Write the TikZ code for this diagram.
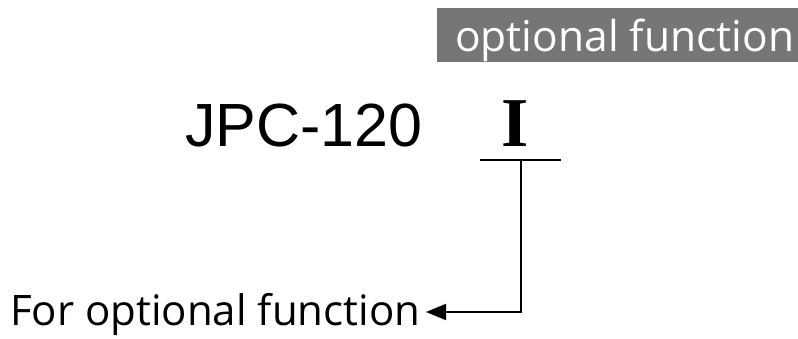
\documentclass[tikz,border=0pt]{standalone}
\usepackage{fontspec}
\setmainfont{Open Sans}
\newfontfamily\arialfont{Liberation Sans}
\newfontfamily\timesfont{Liberation Serif}
\usetikzlibrary{arrows.meta}
\definecolor{boxgray}{RGB}{118,118,118}
\tikzset{
  lbl/.style={inner sep=0pt, anchor=base west},
  conn/.style={line width=1.8pt},
}
\begin{document}
\begin{tikzpicture}[x=1pt,y=-1pt]
\useasboundingbox (0,0) rectangle (798,339);
\fill[boxgray] (437,8) rectangle (798,62);
\node[lbl, text=white, font=\fontsize{42.5}{42.5}\selectfont] (opt) at (455,52) {optional function};
\node[lbl, font=\arialfont\fontsize{61}{61}\selectfont] (jpc) at (185,147) {JPC-120};
\node[lbl, font=\timesfont\bfseries\fontsize{70}{70}\selectfont] (roman) at (501,147) {I};
\coordinate (ul) at (480,160);
\coordinate (ur) at (561,160);
\draw[conn] (ul) -- (ur);
\coordinate (top) at (521,160);
\coordinate (corner) at (521,312);
\node[lbl, font=\fontsize{42}{42}\selectfont] (for) at (10,325) {For optional function};
\coordinate (tip) at (426,312);
\draw[conn, -{Triangle[length=20pt,width=16pt]}] (top) -- (corner) -- (tip);
\end{tikzpicture}
\end{document}
